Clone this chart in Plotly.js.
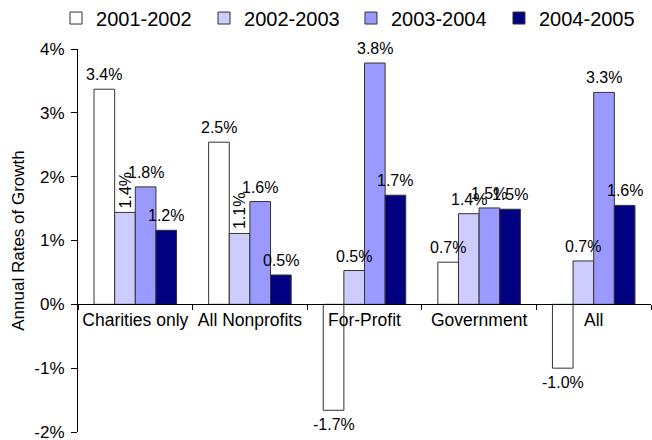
<!DOCTYPE html>
<html>
<head>
<meta charset="utf-8">
<script src="https://cdn.plot.ly/plotly-3.0.1.min.js"></script>
<style>html,body{margin:0;padding:0;background:#fff;}#chart{width:652px;height:440px;}</style>
</head>
<body>
<div id="chart"></div>
<script>
var categories = ["Charities only", "All Nonprofits", "For-Profit", "Government", "All"];
var seriesNames = ["2001-2002", "2002-2003", "2003-2004", "2004-2005"];
var growth2001_2002 = [3.37, 2.54, -1.66, 0.66, -1.00];
var growth2002_2003 = [1.44, 1.11, 0.53, 1.42, 0.68];
var growth2003_2004 = [1.84, 1.61, 3.78, 1.51, 3.32];
var growth2004_2005 = [1.16, 0.46, 1.71, 1.49, 1.55];
var yTickVals = [-2, -1, 0, 1, 2, 3, 4];
var yTickText = ["-2%", "-1%", "0%", "1%", "2%", "3%", "4%"];
var rotatedLabels = [[1, 0], [1, 1]]; // [series, category]

var seriesValues = [growth2001_2002, growth2002_2003, growth2003_2004, growth2004_2005];
var colors = ["#FFFFFF", "#CCCCFF", "#9999FF", "#000080"];
var legendIds = ["legend", "legend2", "legend3", "legend4"];
var legendX = [0.0859, 0.3129, 0.5383, 0.7653];
var FONT = "Liberation Sans, Arial, sans-serif";
var bargap = 0.28;
var yRange = [-2, 4];

var traces = seriesValues.map(function (vals, i) {
  return {
    type: "bar",
    name: seriesNames[i],
    x: categories,
    y: vals,
    legend: legendIds[i],
    marker: { color: colors[i], line: { color: "#333333", width: 1 } },
    hoverinfo: "x+y+name"
  };
});

var annotations = [];
var groupW = 1 - bargap;
var barW = groupW / seriesValues.length;
seriesValues.forEach(function (vals, i) {
  var off = -groupW / 2 + (i + 0.5) * barW;
  vals.forEach(function (v, j) {
    var rot = rotatedLabels.some(function (p) { return p[0] === i && p[1] === j; });
    var a = {
      xref: "x", yref: "y",
      x: j + off, y: v,
      text: v.toFixed(1) + "%",
      showarrow: false,
      font: { family: FONT, size: 16, color: "#000" },
      xanchor: "center",
      yanchor: v >= 0 ? "bottom" : "top",
      yshift: v >= 0 ? 4 : -4
    };
    if (rot) { a.textangle = -90; a.yshift = 2; }
    annotations.push(a);
  });
});

var layout = {
  width: 652, height: 440,
  margin: { l: 78, r: 1, t: 49, b: 8 },
  paper_bgcolor: "#fff", plot_bgcolor: "#fff",
  font: { family: FONT, size: 16, color: "#000" },
  barmode: "group",
  bargap: bargap,
  bargroupgap: 0,
  showlegend: true,
  xaxis: {
    type: "category",
    anchor: "free",
    position: (0 - yRange[0]) / (yRange[1] - yRange[0]),
    showline: true, linecolor: "#000", linewidth: 1,
    ticks: "outside", tickson: "boundaries", ticklen: 5, tickcolor: "#000",
    tickangle: 0,
    showgrid: false, zeroline: false,
    tickfont: { family: FONT, size: 17.5, color: "#000" }
  },
  yaxis: {
    range: yRange,
    tickvals: yTickVals, ticktext: yTickText,
    showline: true, linecolor: "#000", linewidth: 1,
    ticks: "outside", ticklen: 6, tickcolor: "#000",
    ticklabelstandoff: 3,
    ticklabeloverflow: "allow",
    showgrid: false, zeroline: false,
    tickfont: { family: FONT, size: 17, color: "#000" },
    title: { text: "Annual Rates of Growth", font: { family: FONT, size: 17, color: "#000" }, standoff: 5 }
  },
  annotations: annotations
};

legendIds.forEach(function (id, i) {
  layout[id] = {
    orientation: "h",
    xref: "container", yref: "container",
    x: legendX[i], xanchor: "left",
    y: 0.959, yanchor: "middle",
    bgcolor: "rgba(0,0,0,0)",
    font: { family: FONT, size: 20, color: "#000" }
  };
});

Plotly.newPlot("chart", traces, layout, { displayModeBar: false, staticPlot: true });
</script>
</body>
</html>
